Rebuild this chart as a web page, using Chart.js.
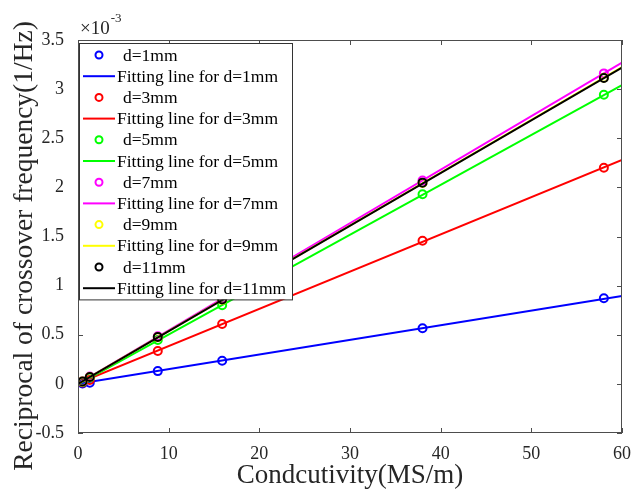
<!DOCTYPE html>
<html>
<head>
<meta charset="utf-8">
<script src="https://cdn.jsdelivr.net/npm/chart.js@4"></script>
<style>
  body { margin:0; background:#fff; }
  #wrap { width:633px; height:492px; }
</style>
</head>
<body>
<div id="wrap"><canvas id="myChart" width="633" height="492"></canvas></div>
<script>
// conductivity of the samples (MS/m)
const conductivity = [0.5, 1.3, 8.8, 15.9, 38, 58];
// measured reciprocal of crossover frequency (x10^-3 1/Hz)
const d1  = [0.005, 0.012, 0.13, 0.235, 0.567, 0.871];
const d3  = [0.015, 0.04, 0.335, 0.61, 1.457, 2.2];
const d5  = [0.02, 0.065, 0.447, 0.80, 1.93, 2.943];
const d7  = [0.025, 0.075, 0.485, 0.87, 2.07, 3.16];
const d9  = [0.025, 0.07, 0.475, 0.855, 2.045, 3.115];
const d11 = [0.025, 0.07, 0.477, 0.86, 2.048, 3.113];
// fitting lines, evaluated at the ends of the x range
const fitX = [0, 60];
const fit1  = [0.0, 0.895];
const fit3  = [0.005, 2.28];
const fit5  = [-0.005, 3.04];
const fit7  = [0.0, 3.27];
const fit9  = [0.0, 3.225];
const fit11 = [0.0, 3.22];

const labels = ['d=1mm','d=3mm','d=5mm','d=7mm','d=9mm','d=11mm'];
const colors = ['#0000ff','#ff0000','#00ff00','#ff00ff','#ffff00','#000000'];
const measured = [d1, d3, d5, d7, d9, d11];
const fits = [fit1, fit3, fit5, fit7, fit9, fit11];
const yTitle = 'Reciprocal of crossover frequency(1/Hz)';

const FONT = "'Liberation Serif', 'Times New Roman', serif";

var datasets = [];
for (var i = 0; i < labels.length; i++) {
    datasets.push({
        label: labels[i],
        data: conductivity.map((c, k) => ({x: c, y: measured[i][k]})),
        showLine: false,
        pointStyle: 'circle',
        pointRadius: 4,
        pointBorderWidth: 2,
        pointBackgroundColor: 'rgba(0,0,0,0)',
        borderColor: colors[i],
        order: 20 - i*2
    });
    datasets.push({
        label: 'Fitting line for ' + labels[i],
        data: fitX.map((c, k) => ({x: c, y: fits[i][k]})),
        showLine: true,
        pointRadius: 0,
        borderWidth: 2,
        borderColor: colors[i],
        order: 19 - i*2
    });
}

// box, inward ticks, y title, x10^-3 and the legend inside the axes
const matlabLook = {
    id: 'matlabLook',
    afterDraw(chart) {
        const ctx = chart.ctx;
        const a = chart.chartArea;
        const xs = chart.scales.x, ys = chart.scales.y;
        ctx.save();
        ctx.strokeStyle = '#4d4d4d';
        ctx.lineWidth = 1;
        ctx.strokeRect(Math.round(a.left)+0.5, Math.round(a.top)+0.5, Math.round(a.right-a.left)-1, Math.round(a.bottom-a.top)-1);
        ctx.beginPath();
        xs.ticks.forEach(t => {
            var px = Math.round(xs.getPixelForValue(t.value)) + 0.5;
            ctx.moveTo(px, a.bottom); ctx.lineTo(px, a.bottom - 5);
            ctx.moveTo(px, a.top); ctx.lineTo(px, a.top + 5);
        });
        ys.ticks.forEach(t => {
            var py = Math.round(ys.getPixelForValue(t.value)) + 0.5;
            ctx.moveTo(a.left, py); ctx.lineTo(a.left + 5, py);
            ctx.moveTo(a.right, py); ctx.lineTo(a.right - 5, py);
        });
        ctx.stroke();

        // y axis title
        ctx.save();
        ctx.translate(25, 246);
        ctx.rotate(-Math.PI/2);
        ctx.fillStyle = '#262626';
        ctx.font = '27.5px ' + FONT;
        ctx.textAlign = 'center';
        ctx.textBaseline = 'middle';
        ctx.fillText(yTitle, 0, 0);
        ctx.restore();

        // exponent label
        ctx.fillStyle = '#262626';
        ctx.textBaseline = 'alphabetic';
        ctx.textAlign = 'left';
        ctx.font = '19px ' + FONT;
        ctx.fillText('\u00d710', a.left + 2, a.top - 6);
        var w = ctx.measureText('\u00d710').width;
        ctx.font = '13px ' + FONT;
        ctx.fillText('-3', a.left + 2 + w + 1, a.top - 18);

        // legend
        var lx = a.left + 1, ly = a.top + 3, lw = 213, rowH = 21.2;
        var lh = rowH * 12 + 2;
        ctx.fillStyle = '#ffffff';
        ctx.fillRect(lx, ly, lw, lh);
        ctx.strokeStyle = '#333333';
        ctx.strokeRect(lx + 0.5, ly + 0.5, lw, lh);
        ctx.font = '17.5px ' + FONT;
        ctx.textBaseline = 'middle';
        for (var i = 0; i < labels.length; i++) {
            var y1 = ly + 12 + rowH * (2*i);
            var y2 = y1 + rowH;
            ctx.strokeStyle = colors[i];
            ctx.lineWidth = 2;
            ctx.beginPath();
            ctx.arc(lx + 20, y1, 3.5, 0, Math.PI*2);
            ctx.stroke();
            ctx.beginPath();
            ctx.moveTo(lx + 4, y2); ctx.lineTo(lx + 36, y2);
            ctx.stroke();
            ctx.fillStyle = '#000';
            ctx.fillText(labels[i], lx + 44, y1 + 1);
            ctx.fillText('Fitting line for ' + labels[i], lx + 38, y2 + 1);
        }
        ctx.restore();
    }
};

var ctx = document.getElementById('myChart').getContext('2d');
var myChart = new Chart(ctx, {
    type: 'scatter',
    data: { datasets: datasets },
    options: {
        responsive: false,
        animation: false,
        layout: { padding: { top: 40, right: 9, left: 0, bottom: 0 } },
        plugins: { legend: { display: false }, tooltip: { enabled: false } },
        scales: {
            x: {
                type: 'linear', min: 0, max: 60,
                ticks: { stepSize: 10, color: '#262626', font: { family: FONT, size: 18 }, padding: 2 },
                grid: { display: false },
                border: { display: false },
                title: { display: true, text: 'Condcutivity(MS/m)', color: '#262626',
                         font: { family: FONT, size: 27 }, padding: { top: 0, bottom: 0 } },
                afterFit: s => { s.height = 59; }
            },
            y: {
                type: 'linear', min: -0.5, max: 3.5,
                ticks: { stepSize: 0.5, color: '#262626', font: { family: FONT, size: 18 }, padding: 6,
                         callback: v => String(+v.toFixed(1)) },
                grid: { display: false },
                border: { display: false },
                afterFit: s => { s.width = 78; }
            }
        }
    },
    plugins: [matlabLook]
});
</script>
</body>
</html>
